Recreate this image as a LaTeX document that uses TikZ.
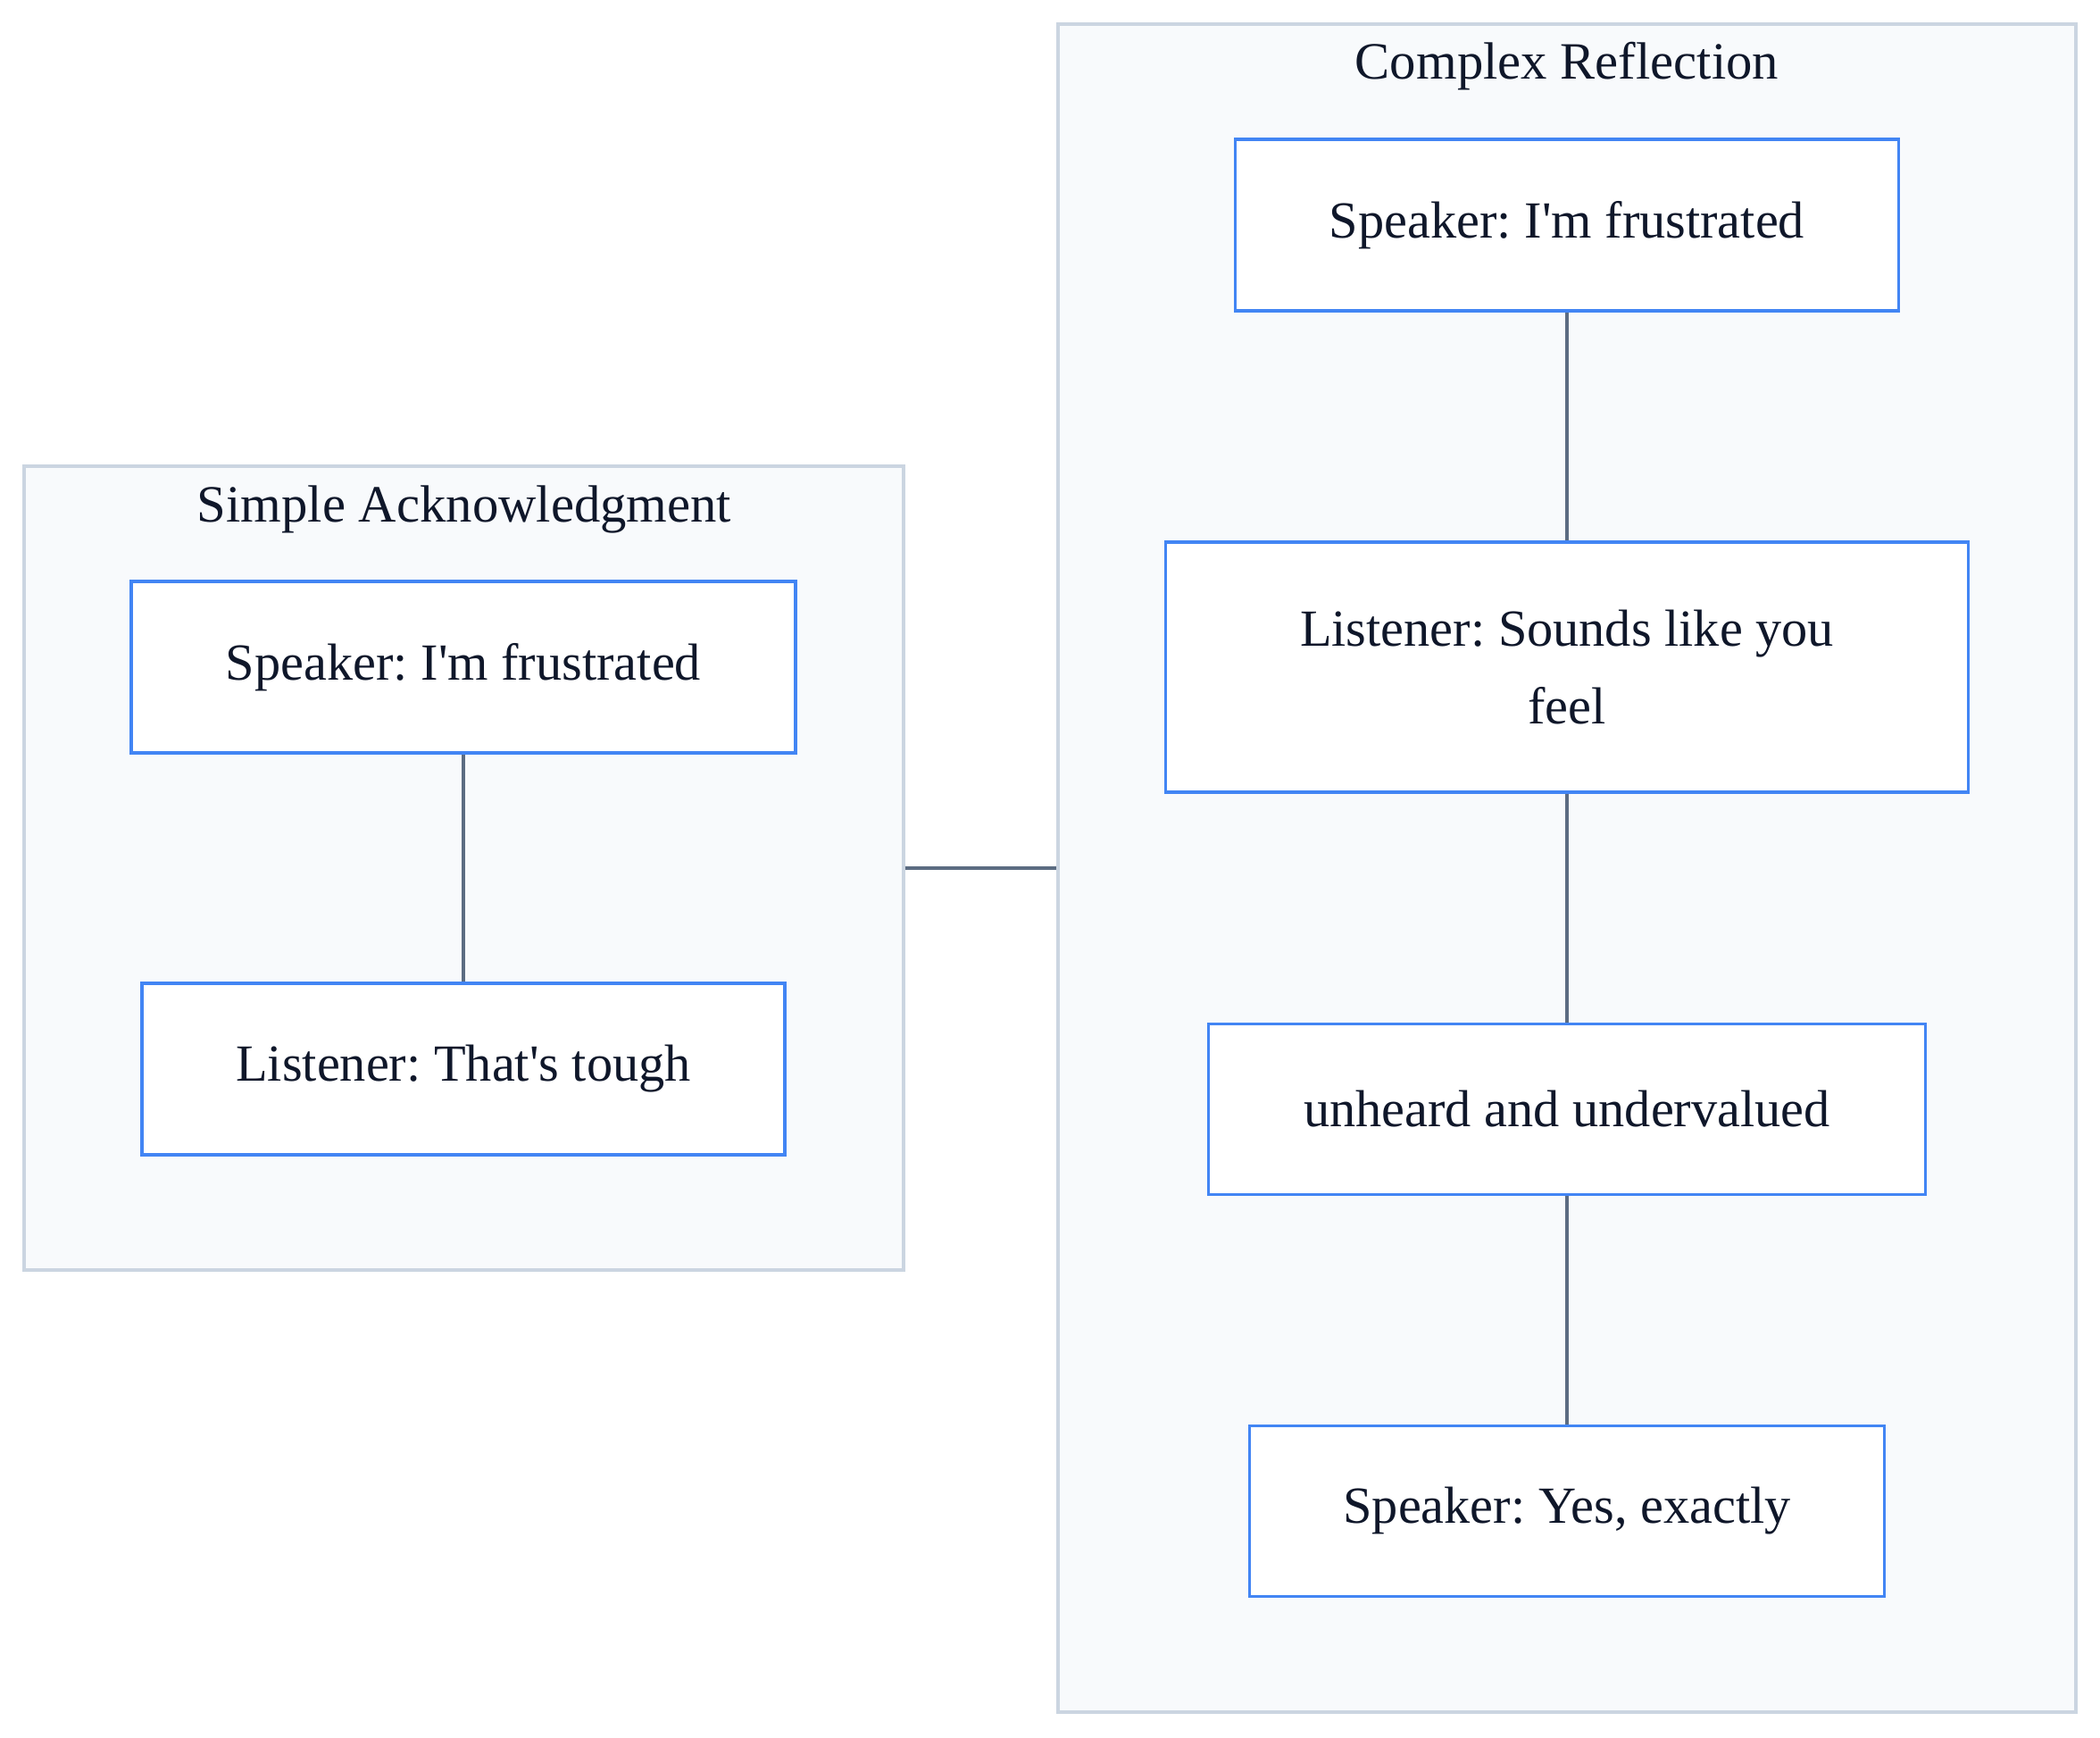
\documentclass[tikz,border=0pt]{standalone}
\usepackage{fontspec}
\setmainfont{Liberation Serif}
\usepackage{tikz}
\usetikzlibrary{positioning, calc}
\definecolor{boxblue}{RGB}{66,133,244}
\definecolor{clusterfill}{RGB}{248,250,252}
\definecolor{clusterline}{RGB}{203,213,225}
\definecolor{linkgray}{RGB}{92,108,130}
\definecolor{inkdark}{RGB}{15,23,42}
\frenchspacing

\begin{document}
\begin{tikzpicture}[
  cluster/.style = {draw=clusterline, fill=clusterfill, line width=0.9pt, inner sep=0pt},
  ttl/.style     = {text=inkdark, font=\fontsize{16.7}{20}\selectfont},
  msg/.style     = {draw=boxblue, fill=white, line width=0.9pt, inner sep=0pt, align=center,
                    text=inkdark, font=\fontsize{16.6}{25}\selectfont},
  link/.style    = {draw=linkgray, line width=0.9pt}
]
\useasboundingbox (0,0) rectangle (23.52,-19.45);

\node[cluster, minimum width=9.85cm, minimum height=9.00cm] (simple)  at (5.195,-9.72) {};
\node[cluster, minimum width=11.40cm, minimum height=18.90cm] (complex) at (17.55,-9.72) {};
\node[ttl] (simpletitle)  at (5.20,-5.70) {Simple Acknowledgment};
\node[ttl] (complextitle) at (17.55,-0.745) {Complex Reflection};

\node[msg, minimum width=7.44cm, minimum height=1.92cm] (spone)  at (5.19,-7.47)  {Speaker: I\textquotesingle m frustrated};
\node[msg, minimum width=7.20cm, minimum height=1.92cm] (lione)  at (5.19,-11.97) {Listener: That\textquotesingle s tough};

\node[msg, minimum width=7.43cm, minimum height=1.92cm] (sptwo)  at (17.55,-2.52)  {Speaker: I\textquotesingle m frustrated};
\node[msg, minimum width=8.99cm, minimum height=2.80cm] (litwo)  at (17.55,-7.47)  {Listener: Sounds like you\\feel};
\node[msg, minimum width=8.03cm, minimum height=1.91cm] (unheard) at (17.55,-12.42) {unheard and undervalued};
\node[msg, minimum width=7.11cm, minimum height=1.91cm] (yes)    at (17.55,-16.92) {Speaker: Yes, exactly};

\draw[link] (spone) -- (lione);
\draw[link] (sptwo) -- (litwo);
\draw[link] (litwo) -- (unheard);
\draw[link] (unheard) -- (yes);
\draw[link] (simple.east) -- (complex.west |- simple.east);
\end{tikzpicture}
\end{document}
